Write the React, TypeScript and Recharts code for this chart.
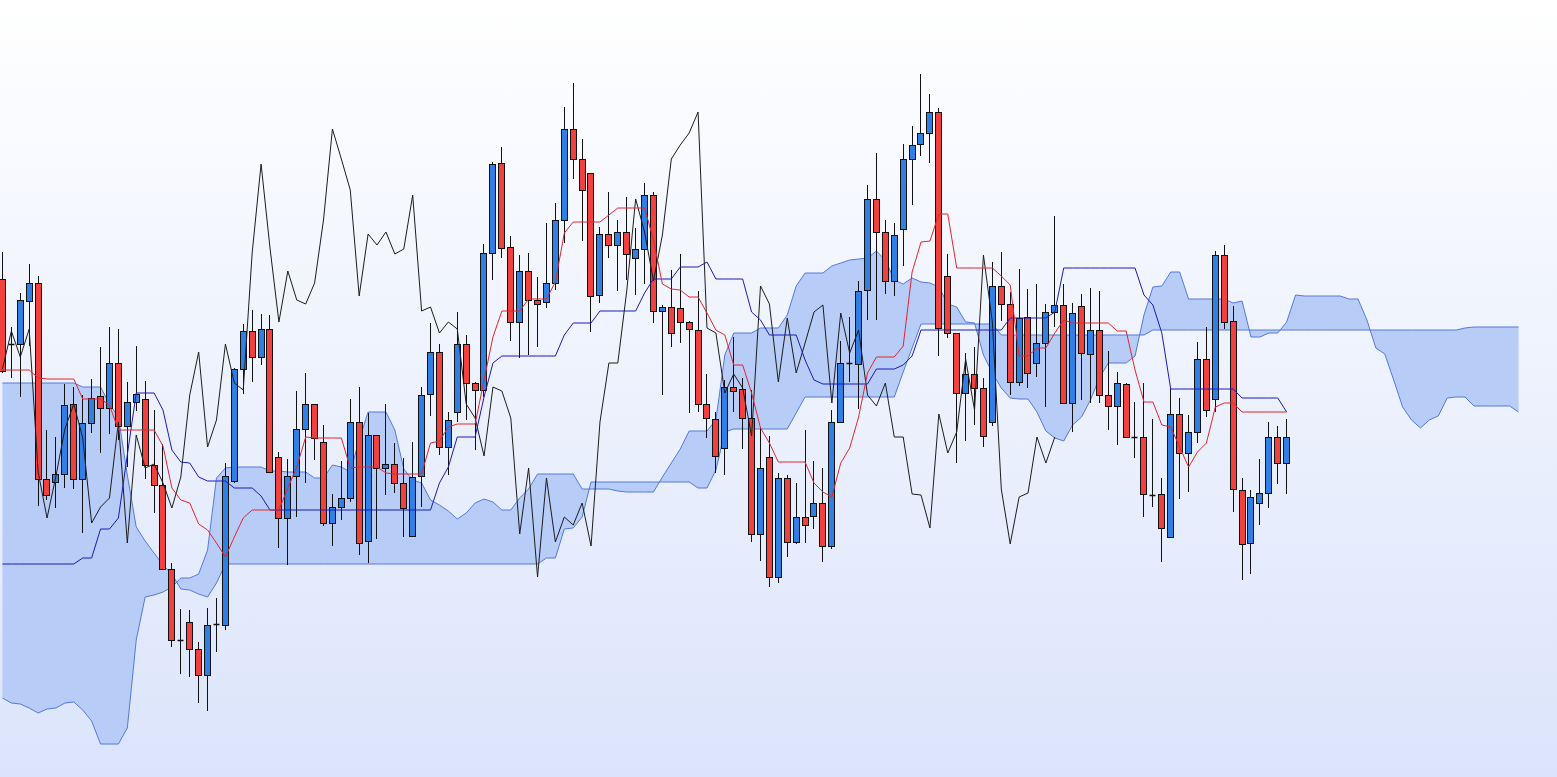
/**
 * App.tsx
 *
 * 一目均衡表(ローソク足 + 転換線・基準線・遅行スパン・雲)を recharts で描画。
 * - 価格は画面から読んだ値(上ほど高い)。軸・目盛りは元画像どおり非表示。
 * - 先行スパンはローソク足より 26 本先まで伸びるので、行数は足の本数 + 26。
 */

import { Area, Bar, ComposedChart, Line, XAxis, YAxis } from "recharts"

const WIDTH = 1557
const HEIGHT = 777
const CHART_WIDTH = 1525
const CHART_LEFT = -2.5
const LAG = 26 // 遅行スパンのずらし幅

const UP_COLOR = "#2f7fe4"
const DOWN_COLOR = "#f1413f"
const WICK_COLOR = "#111111"
const TENKAN_COLOR = "#e3262c"
const KIJUN_COLOR = "#1a1ab8"
const CHIKOU_COLOR = "#1c1c1c"
const CLOUD_FILL = "#b8ccf8"
const CLOUD_STROKE = "#5479dc"

// ローソク足 (145 本)
const opens = [
  521, 456, 456, 499, 517, 321, 318, 326, 396, 321,
  377, 404, 392, 437, 374, 398, 401, 335, 315, 231,
  160, 178, 151, 125, 176, 175, 319, 431, 469, 443,
  471, 343, 282, 324, 371, 396, 358, 277, 293, 302,
  378, 259, 365, 332, 336, 317, 264, 324, 406, 448,
  353, 388, 456, 417, 410, 547, 637, 553, 478, 529,
  500, 498, 517, 580, 671, 641, 627, 505, 566, 555,
  568, 542, 551, 605, 489, 493, 492, 478, 470, 396,
  381, 352, 413, 411, 382, 266, 343, 223, 322, 258,
  283, 284, 297, 254, 378, 437, 436, 510, 601, 568,
  519, 571, 641, 656, 667, 688, 524, 467, 407, 426,
  412, 378, 514, 496, 418, 483, 437, 457, 488, 495,
  397, 494, 446, 470, 405, 394, 416, 363, 363, 305,
  306, 263, 386, 347, 368, 441, 401, 545, 479, 310,
  257, 297, 307, 363, 337,
]
const highs = [
  548, 473, 507, 536, 524, 370, 363, 416, 413, 405,
  421, 453, 473, 471, 418, 454, 419, 390, 356, 237,
  191, 190, 158, 192, 202, 337, 432, 476, 490, 486,
  485, 348, 341, 409, 427, 396, 375, 306, 339, 401,
  413, 387, 365, 396, 357, 342, 358, 413, 477, 456,
  388, 488, 465, 418, 556, 638, 653, 564, 545, 547,
  523, 577, 597, 693, 717, 661, 627, 573, 608, 580,
  603, 572, 617, 608, 495, 530, 546, 479, 509, 426,
  388, 420, 463, 422, 410, 373, 364, 327, 325, 317,
  370, 339, 332, 390, 459, 483, 519, 615, 647, 580,
  577, 656, 674, 726, 706, 692, 546, 467, 447, 453,
  422, 538, 548, 508, 531, 511, 516, 496, 584, 516,
  497, 506, 512, 509, 449, 428, 417, 398, 417, 381,
  322, 411, 402, 385, 458, 473, 549, 555, 494, 322,
  310, 341, 378, 374, 381,
]
const lows = [
  427, 422, 403, 454, 294, 300, 292, 312, 311, 267,
  367, 347, 366, 360, 333, 389, 321, 287, 230, 153,
  126, 123, 97, 89, 148, 170, 317, 406, 418, 435,
  327, 252, 235, 283, 317, 340, 274, 254, 280, 298,
  245, 237, 261, 305, 307, 263, 263, 293, 384, 345,
  325, 378, 380, 350, 403, 520, 542, 459, 442, 445,
  453, 492, 510, 557, 621, 559, 468, 497, 542, 509,
  520, 505, 516, 477, 405, 453, 457, 387, 388, 362,
  327, 325, 388, 351, 258, 239, 213, 217, 243, 256,
  257, 271, 238, 251, 377, 418, 391, 480, 480, 506,
  504, 534, 595, 644, 637, 444, 462, 337, 359, 375,
  353, 374, 479, 405, 414, 412, 423, 393, 473, 396,
  368, 400, 397, 397, 370, 355, 363, 342, 283, 293,
  238, 262, 301, 308, 357, 383, 388, 471, 288, 220,
  226, 275, 292, 316, 306,
]
const closes = [
  429, 456, 500, 517, 321, 305, 326, 395, 321, 377,
  402, 392, 437, 374, 398, 406, 335, 315, 231, 160,
  160, 151, 125, 175, 176, 324, 431, 469, 443, 471,
  328, 282, 324, 371, 396, 362, 277, 293, 302, 378,
  257, 365, 332, 336, 317, 292, 323, 405, 448, 353,
  380, 456, 417, 410, 547, 636, 552, 478, 529, 500,
  496, 517, 580, 671, 641, 610, 504, 566, 555, 568,
  546, 551, 605, 489, 493, 467, 478, 471, 396, 382,
  344, 413, 409, 382, 266, 332, 223, 322, 258, 283,
  275, 297, 254, 378, 437, 437, 509, 601, 568, 519,
  565, 641, 655, 667, 688, 472, 467, 407, 426, 412,
  364, 514, 496, 418, 482, 427, 457, 488, 495, 397,
  487, 447, 470, 405, 394, 417, 363, 363, 306, 305,
  272, 386, 347, 368, 441, 390, 545, 478, 311, 256,
  303, 307, 363, 337, 363,
]

// 転換線
const tenkan = [
  430, 430, 430, 430, 422, 421, 421, 421, 421, 401,
  401, 401, 395, 370, 370, 370, 370, 370, 354, 312,
  300, 297, 276, 270, 257, 243, 263, 282, 290, 290,
  290, 290, 312, 333, 363, 362, 362, 362, 362, 332,
  333, 333, 333, 327, 326, 326, 326, 326, 357, 359,
  373, 376, 376, 376, 420, 463, 489, 489, 489, 501,
  501, 501, 518, 567, 578, 578, 578, 578, 585, 592,
  592, 592, 592, 560, 516, 511, 510, 503, 503, 487,
  470, 465, 435, 435, 407, 372, 357, 338, 338, 338,
  338, 317, 308, 303, 337, 352, 383, 427, 443, 443,
  443, 454, 528, 558, 559, 586, 586, 532, 532, 532,
  532, 532, 524, 515, 444, 444, 452, 452, 467, 480,
  477, 477, 477, 477, 477, 469, 469, 430, 398, 398,
  375, 373, 353, 333, 348, 357, 393, 397, 397, 388,
  388, 388, 388, 388, 388,
]

// 基準線
const kijun = [
  236, 236, 236, 236, 236, 236, 236, 236, 236, 242,
  242, 271, 271, 282, 345, 407, 407, 407, 390, 350,
  338, 337, 323, 319, 319, 319, 312, 312, 312, 304,
  290, 290, 290, 290, 290, 290, 290, 290, 290, 290,
  290, 290, 290, 290, 290, 290, 290, 290, 290, 317,
  333, 363, 363, 363, 403, 437, 444, 444, 444, 444,
  444, 444, 444, 465, 477, 477, 477, 489, 489, 489,
  489, 489, 507, 521, 521, 521, 533, 533, 533, 538,
  521, 521, 521, 521, 488, 480, 465, 465, 465, 465,
  440, 420, 416, 416, 416, 416, 416, 416, 431, 431,
  431, 435, 444, 470, 470, 470, 470, 470, 470, 470,
  470, 470, 470, 482, 482, 482, 482, 482, 488, 532,
  532, 532, 532, 532, 532, 532, 532, 532, 505, 495,
  467, 411, 411, 411, 411, 411, 411, 411, 411, 402,
  402, 402, 402, 402, 388,
]

// 先行スパン1 (171 本、26 本先まで)
const spanA = [
  102, 97, 96, 92, 87, 91, 92, 97, 98, 90,
  79, 56, 56, 56, 72, 160, 203, 205, 208, 213,
  222, 222, 226, 250, 322, 332, 333, 333, 333, 333,
  329, 329, 328, 328, 328, 322, 322, 335, 333, 328,
  360, 388, 388, 388, 370, 331, 320, 317, 300, 295,
  289, 281, 287, 297, 301, 298, 290, 290, 302, 311,
  326, 326, 326, 326, 326, 311, 311, 311, 311, 309,
  308, 308, 308, 308, 323, 337, 351, 369, 369, 369,
  380, 445, 467, 467, 467, 472, 472, 472, 485, 514,
  527, 527, 527, 534, 537, 540, 541, 542, 549, 540,
  520, 516, 522, 518, 517, 513, 496, 493, 478, 477,
  445, 427, 412, 402, 401, 401, 388, 369, 362, 359,
  375, 383, 400, 422, 437, 437, 437, 444, 485, 513,
  514, 528, 528, 501, 501, 501, 501, 501, 497, 499,
  463, 463, 467, 467, 478, 505, 504, 504, 504, 504,
  504, 501, 501, 480, 452, 446, 420, 393, 380, 372,
  380, 384, 402, 403, 403, 394, 394, 394, 394, 394,
  388,
]

// 先行スパン2
const spanB = [
  417, 417, 417, 417, 417, 417, 417, 417, 417, 413,
  413, 413, 396, 383, 325, 273, 259, 247, 235, 226,
  211, 210, 206, 203, 217, 236, 236, 236, 236, 236,
  236, 236, 236, 236, 236, 236, 236, 236, 236, 236,
  236, 236, 236, 236, 236, 236, 236, 236, 236, 236,
  236, 236, 236, 236, 236, 236, 236, 236, 236, 236,
  236, 242, 242, 271, 272, 283, 318, 318, 318, 318,
  318, 318, 318, 318, 318, 318, 318, 318, 312, 312,
  330, 368, 371, 371, 371, 371, 371, 371, 371, 387,
  403, 403, 403, 403, 403, 403, 403, 403, 403, 403,
  403, 428, 452, 476, 476, 476, 476, 476, 476, 476,
  476, 476, 465, 465, 465, 465, 465, 465, 465, 465,
  465, 465, 465, 465, 465, 465, 465, 465, 465, 470,
  470, 470, 470, 470, 470, 470, 470, 470, 470, 470,
  470, 470, 470, 470, 470, 470, 470, 470, 470, 470,
  470, 470, 470, 470, 470, 470, 470, 470, 470, 470,
  470, 470, 470, 470, 472, 473, 473, 473, 473, 473,
  473,
]

const rows = spanA.map((a, i) => {
  const has = i < opens.length
  return {
    i,
    hl: has ? [lows[i], highs[i]] : null,
    open: has ? opens[i] : null,
    high: has ? highs[i] : null,
    low: has ? lows[i] : null,
    close: has ? closes[i] : null,
    tenkan: has ? tenkan[i] : null,
    kijun: has ? kijun[i] : null,
    chikou: i + LAG < closes.length ? closes[i + LAG] : null,
    cloud: [a, spanB[i]],
  }
})

// 高値〜安値のレンジバーの位置から始値・終値のピクセル位置を割り出して描く
function Candle(props: any) {
  const { x, y, width, height, payload } = props
  if (!payload || payload.open == null) return null
  const { open, close, high, low } = payload
  const top = Math.min(y, y + height)
  const h = Math.abs(height)
  const toY = (v: number) => (high === low ? top : top + ((high - v) / (high - low)) * h)
  const cx = Math.floor(x + width / 2) + 0.5
  const yHigh = toY(high)
  const yLow = toY(low)
  const yOpen = Math.round(toY(open)) + 0.5
  const yClose = Math.round(toY(close)) + 0.5
  const bodyTop = Math.min(yOpen, yClose)
  const bodyH = Math.abs(yOpen - yClose)

  return (
    <g>
      <line x1={cx} x2={cx} y1={yHigh} y2={yLow} stroke={WICK_COLOR} strokeWidth={1} />
      {bodyH < 1 ? (
        <line x1={cx - 3} x2={cx + 3} y1={bodyTop} y2={bodyTop} stroke={WICK_COLOR} strokeWidth={1.5} />
      ) : (
        <rect
          x={cx - 3}
          y={bodyTop}
          width={6}
          height={bodyH}
          fill={close > open ? UP_COLOR : DOWN_COLOR}
          stroke={WICK_COLOR}
          strokeWidth={1}
        />
      )}
    </g>
  )
}

export default function App() {
  return (
    <div
      style={{
        position: "fixed",
        left: 0,
        top: 0,
        width: WIDTH,
        height: HEIGHT,
        overflow: "hidden",
        background: "linear-gradient(#ffffff, #dbe4fb)",
      }}
    >
      <div style={{ position: "absolute", left: CHART_LEFT, top: 0 }}>
        <ComposedChart
          width={CHART_WIDTH}
          height={HEIGHT}
          data={rows}
          margin={{ top: 0, right: 0, bottom: 0, left: 0 }}
        >
          <XAxis dataKey="i" type="category" hide />
          <YAxis type="number" domain={[23, 800]} allowDataOverflow hide />
          <Area
            dataKey="cloud"
            type="linear"
            stroke={CLOUD_STROKE}
            strokeWidth={1}
            fill={CLOUD_FILL}
            fillOpacity={1}
            dot={false}
            activeDot={false}
            isAnimationActive={false}
          />
          <Bar dataKey="hl" shape={Candle} isAnimationActive={false} />
          <Line
            dataKey="chikou"
            type="linear"
            stroke={CHIKOU_COLOR}
            strokeWidth={1}
            dot={false}
            activeDot={false}
            isAnimationActive={false}
          />
          <Line
            dataKey="kijun"
            type="linear"
            stroke={KIJUN_COLOR}
            strokeWidth={1}
            dot={false}
            activeDot={false}
            isAnimationActive={false}
          />
          <Line
            dataKey="tenkan"
            type="linear"
            stroke={TENKAN_COLOR}
            strokeWidth={1}
            dot={false}
            activeDot={false}
            isAnimationActive={false}
          />
        </ComposedChart>
      </div>
    </div>
  )
}
